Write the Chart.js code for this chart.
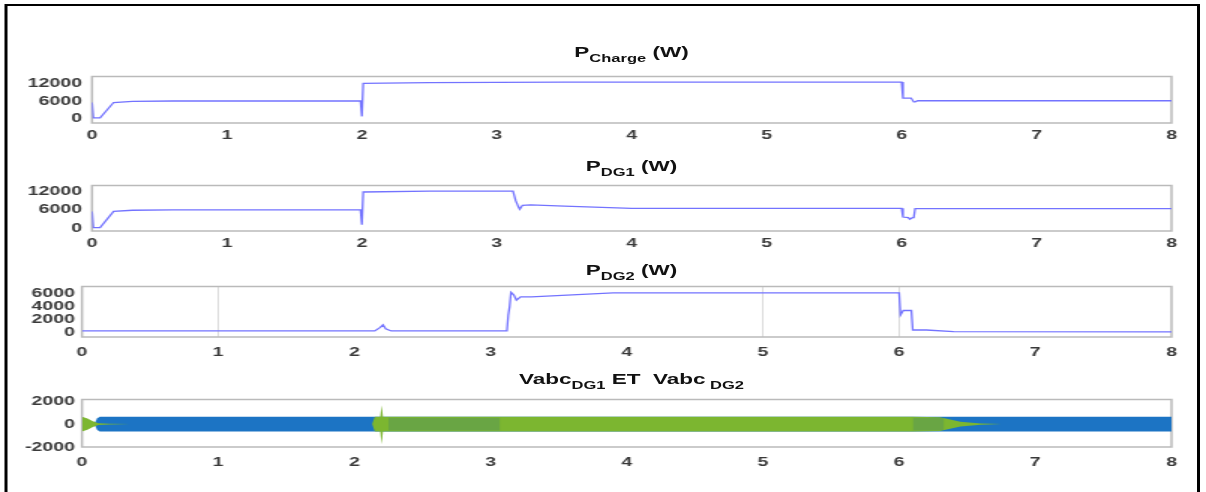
<!DOCTYPE html>
<html>
<head>
<meta charset="utf-8">
<script src="https://cdn.jsdelivr.net/npm/chart.js"></script>
<style>
    body { margin: 0; background: #fff; }
    /* the source figure is stretched 1.5x horizontally, so draw at 804px and stretch */
    #page { position: absolute; left: 0; top: 0; width: 804px; height: 492px; transform: scaleX(1.5); transform-origin: 0 0; overflow: hidden; }
    #frame { position: absolute; left: 3.4px; top: 4px; width: 797px; height: 520px; box-sizing: border-box; border: 2px solid #000; }
    canvas { position: absolute; left: 0; }
    .ttl { position: absolute; left: 21px; width: 800px; text-align: center; font: bold 15px 'Liberation Sans', Arial, sans-serif; line-height: 15px; color: #111; white-space: nowrap; }
    .ttl sub { font-size: 11px; vertical-align: baseline; position: relative; top: 5px; line-height: 0; }
</style>
</head>
<body>
<div id="page">
    <div id="frame"></div>
    <div class="ttl" style="top:44px">P<sub>Charge</sub> (W)</div>
    <div class="ttl" style="top:158px">P<sub>DG1</sub> (W)</div>
    <div class="ttl" style="top:262px">P<sub>DG2</sub> (W)</div>
    <div class="ttl" style="top:371px">Vabc<sub>DG1</sub> ET&nbsp; Vabc<sub>&nbsp;DG2</sub></div>
    <canvas id="c1"></canvas>
    <canvas id="c2"></canvas>
    <canvas id="c3"></canvas>
    <canvas id="c4"></canvas>
</div>

<script>
    // P_Charge (W)
    const chargeT = [0, 0.01, 0.06, 0.16, 0.3, 0.6, 1.99, 2.0, 2.01, 2.5, 3.5, 6.0, 6.01, 6.07, 6.09, 6.1, 6.12, 8];
    const chargeP = [5500, 300, 300, 5500, 5900, 6000, 6000, 800, 12000, 12200, 12400, 12400, 7000, 7000, 5700, 5700, 6100, 6100];

    // P_DG1 (W)
    const dg1T = [0, 0.01, 0.06, 0.16, 0.3, 0.6, 1.99, 2.0, 2.01, 2.5, 3.12, 3.14, 3.16, 3.17, 3.19, 3.25, 3.5, 4.0, 6.0, 6.01, 6.05, 6.06, 6.08, 6.09, 6.1, 8];
    const dg1P = [5500, 300, 300, 5500, 5900, 6000, 6000, 1200, 11800, 12100, 12100, 9000, 7000, 6200, 7500, 7600, 7200, 6500, 6500, 3700, 3500, 3000, 3500, 3500, 6400, 6400];

    // P_DG2 (W)
    const dg2T = [0, 2.15, 2.19, 2.21, 2.23, 2.27, 3.12, 3.13, 3.14, 3.15, 3.17, 3.19, 3.22, 3.3, 3.6, 3.9, 6.0, 6.01, 6.03, 6.09, 6.1, 6.2, 6.4, 8];
    const dg2P = [250, 250, 800, 1200, 600, 250, 250, 2700, 4000, 6200, 5800, 5000, 5500, 5500, 5800, 6100, 6100, 2700, 3400, 3400, 400, 400, 150, 100];

    // Vabc envelopes (V): blue = DG1, green = DG2
    const blueT = [0.09, 0.11, 0.13, 8];
    const blueHi = [0, 500, 650, 650];
    const blueLo = [0, -500, -650, -650];
    const greenStartT = [0, 0.04, 0.08, 0.12, 0.2, 0.35];
    const greenStartHi = [650, 500, 250, 80, 30, 0];
    const greenStartLo = [-650, -500, -250, -80, -30, 0];
    const greenT = [2.13, 2.15, 2.19, 2.2, 2.21, 2.25, 6.1, 6.3, 6.45, 6.6, 6.75];
    const greenHi = [0, 650, 650, 1650, 650, 650, 650, 600, 200, 60, 0];
    const greenLo = [0, -650, -650, -1750, -650, -650, -650, -600, -200, -60, 0];
    const mix1T = [2.25, 3.07];
    const mix2T = [6.1, 6.33];
    const mixHi = [550, 550];
    const mixLo = [-550, -550];

    const yTicks1 = [0, 6000, 12000];
    const yTicks2 = [0, 6000, 12000];
    const yTicks3 = [0, 2000, 4000, 6000];
    const yTicks4 = [-2000, 0, 2000];
    const gridAt3 = [1, 5, 6];

    const lineColor = 'rgb(115,115,255)';
    const blue = 'rgb(28,116,196)';
    const green = 'rgb(124,182,48)';
    const mixColor = 'rgba(30,100,150,0.2)';
    const font = { family: "'Liberation Sans', Arial, sans-serif", size: 13, weight: 'bold' };

    function pts(t, v) {
        return t.map((x, i) => ({ x: x, y: v[i] }));
    }

    function lineSet(t, v) {
        return { data: pts(t, v), borderColor: lineColor, borderWidth: 1.3, pointRadius: 0, tension: 0, fill: false };
    }

    function band(t, hi, lo, color) {
        return [
            { data: pts(t, hi), borderWidth: 0, pointRadius: 0, backgroundColor: color, fill: '+1' },
            { data: pts(t, lo), borderWidth: 0, pointRadius: 0, fill: false }
        ];
    }

    const boxPlugin = {
        id: 'box',
        beforeDatasetsDraw(chart) {
            const a = chart.chartArea, ctx = chart.ctx;
            ctx.save();
            ctx.strokeStyle = '#bababa';
            ctx.lineWidth = 1.5;
            ctx.strokeRect(a.left, a.top, a.right - a.left, a.bottom - a.top);
            ctx.restore();
        }
    };

    function makePanel(id, top, bottom, left, yMin, yMax, yTicks, datasets, xPad, yPad, gridAt) {
        const canvas = document.getElementById(id);
        canvas.width = 804;
        canvas.height = bottom - top + 6 + 26;
        canvas.style.top = (top - 6) + 'px';
        new Chart(canvas, {
            type: 'line',
            data: { datasets: datasets },
            plugins: [boxPlugin],
            options: {
                responsive: false,
                animation: false,
                layout: { padding: { top: 6, right: 23, left: 0, bottom: 0 } },
                plugins: { legend: { display: false }, tooltip: { enabled: false } },
                scales: {
                    x: {
                        type: 'linear', min: 0, max: 8,
                        border: { display: false },
                        grid: {
                            display: !!gridAt, drawTicks: false, lineWidth: 1,
                            color: c => (gridAt && gridAt.includes(c.tick.value)) ? 'rgba(0,0,0,0.14)' : 'rgba(0,0,0,0)'
                        },
                        ticks: { stepSize: 1, padding: xPad, color: '#3a3a3a', font: font, maxRotation: 0, autoSkip: false, callback: v => String(v) },
                        afterFit: s => { s.height = 26; }
                    },
                    y: {
                        min: yMin, max: yMax,
                        border: { display: false },
                        grid: { display: false, drawTicks: false },
                        ticks: { padding: yPad, color: '#3a3a3a', font: font, autoSkip: false, callback: v => String(v) },
                        afterBuildTicks: s => { s.ticks = yTicks.map(v => ({ value: v })); },
                        afterFit: s => { s.width = left; }
                    }
                }
            }
        });
    }

    makePanel('c1', 68, 123, 61.33, -1430, 14290, yTicks1, [lineSet(chargeT, chargeP)], 5, 6.7);
    makePanel('c2', 177, 231, 61.33, -820, 13900, yTicks2, [lineSet(dg1T, dg1P)], 5, 6.7);
    makePanel('c3', 280, 337, 54.67, -680, 7090, yTicks3, [lineSet(dg2T, dg2P)], 8, 4.7, gridAt3);
    makePanel('c4', 393, 447, 54.67, -2000, 2150, yTicks4, [
        ...band(mix1T, mixHi, mixLo, mixColor),
        ...band(mix2T, mixHi, mixLo, mixColor),
        ...band(greenT, greenHi, greenLo, green),
        ...band(greenStartT, greenStartHi, greenStartLo, green),
        ...band(blueT, blueHi, blueLo, blue)
    ], 8, 4.7);
</script>
</body>
</html>
